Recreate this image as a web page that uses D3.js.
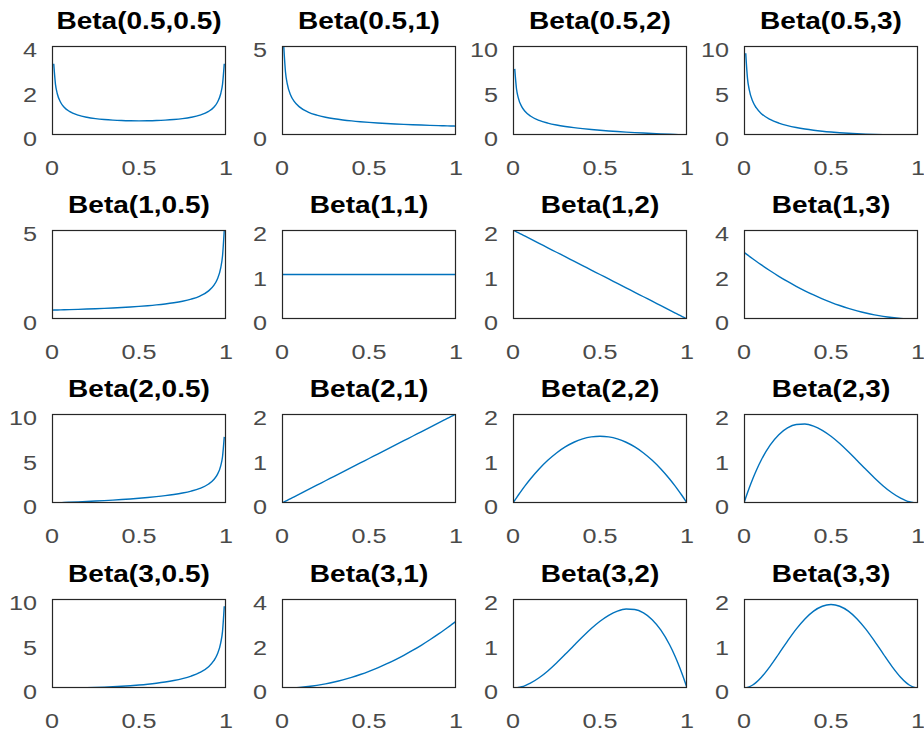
<!DOCTYPE html>
<html>
<head>
<meta charset="utf-8">
<script src="https://cdn.jsdelivr.net/npm/d3@7"></script>
<style>
  html, body { margin: 0; padding: 0; background: #fff; }
  svg { display: block; }
  text { font-family: "Liberation Sans", Arial, Helvetica, sans-serif; }
</style>
</head>
<body>
<svg id="chart" width="924" height="736"></svg>
<script>
// ---- data ----
const titles = [
  "Beta(0.5,0.5)", "Beta(0.5,1)", "Beta(0.5,2)", "Beta(0.5,3)",
  "Beta(1,0.5)", "Beta(1,1)", "Beta(1,2)", "Beta(1,3)",
  "Beta(2,0.5)", "Beta(2,1)", "Beta(2,2)", "Beta(2,3)",
  "Beta(3,0.5)", "Beta(3,1)", "Beta(3,2)", "Beta(3,3)"
];
const yMax = [4, 5, 10, 10,  5, 2, 2, 4,  10, 2, 2, 2,  10, 4, 2, 2];
const yTicks = [
  [0, 2, 4], [0, 5], [0, 5, 10], [0, 5, 10],
  [0, 5], [0, 1, 2], [0, 1, 2], [0, 2, 4],
  [0, 5, 10], [0, 1, 2], [0, 1, 2], [0, 1, 2],
  [0, 5, 10], [0, 2, 4], [0, 1, 2], [0, 1, 2]
];
const xTicks = [0, 0.5, 1];
const xTickLabels = ["0", "0.5", "1"];

const xs = [0, 0.01, 0.02, 0.03, 0.05, 0.07, 0.1, 0.15, 0.2, 0.25, 0.3, 0.35, 0.4, 0.45, 0.5,
            0.55, 0.6, 0.65, 0.7, 0.75, 0.8, 0.85, 0.9, 0.93, 0.95, 0.97, 0.98, 0.99, 1];

const y_05_05 = [null, 3.199, 2.274, 1.866, 1.4605, 1.2475, 1.061, 0.8914, 0.7958, 0.7351, 0.6946, 0.6674, 0.6497, 0.6398, 0.6366,
                 0.6398, 0.6497, 0.6674, 0.6946, 0.7351, 0.7958, 0.8914, 1.061, 1.2475, 1.4605, 1.866, 2.274, 3.199, null];
const y_05_1 = [null, 5.0, 3.536, 2.887, 2.236, 1.890, 1.581, 1.291, 1.118, 1.0, 0.9129, 0.8452, 0.7906, 0.7454, 0.7071,
                0.6742, 0.6455, 0.6202, 0.5976, 0.5774, 0.5590, 0.5423, 0.5270, 0.5185, 0.5130, 0.5077, 0.5051, 0.5025, 0.5];
const y_05_2 = [null, 7.425, 5.198, 4.200, 3.186, 2.637, 2.134, 1.646, 1.342, 1.125, 0.9585, 0.8241, 0.7115, 0.6150, 0.5303,
                0.4551, 0.3873, 0.3256, 0.2689, 0.2165, 0.1677, 0.1220, 0.0791, 0.0544, 0.0385, 0.0228, 0.0152, 0.0075, 0];
const y_05_3 = [null, 9.188, 6.367, 5.093, 3.784, 3.065, 2.401, 1.749, 1.342, 1.0547, 0.8387, 0.6696, 0.5337, 0.4228, 0.3315,
                0.2560, 0.1936, 0.1425, 0.1008, 0.0677, 0.0419, 0.0229, 0.0099, 0.0048, 0.0024, 0.0009, 0.0004, 0.0001, 0];
const y_1_05 = [0.5, 0.5025, 0.5051, 0.5077, 0.5130, 0.5185, 0.5270, 0.5423, 0.5590, 0.5774, 0.5976, 0.6202, 0.6455, 0.6742, 0.7071,
                0.7454, 0.7906, 0.8452, 0.9129, 1.0, 1.118, 1.291, 1.581, 1.890, 2.236, 2.887, 3.536, 5.0, null];
const y_1_1 = [1, 1, 1, 1, 1, 1, 1, 1, 1, 1, 1, 1, 1, 1, 1, 1, 1, 1, 1, 1, 1, 1, 1, 1, 1, 1, 1, 1, 1];
const y_1_2 = [2, 1.98, 1.96, 1.94, 1.9, 1.86, 1.8, 1.7, 1.6, 1.5, 1.4, 1.3, 1.2, 1.1, 1.0,
               0.9, 0.8, 0.7, 0.6, 0.5, 0.4, 0.3, 0.2, 0.14, 0.1, 0.06, 0.04, 0.02, 0];
const y_1_3 = [3, 2.940, 2.881, 2.823, 2.7075, 2.595, 2.43, 2.1675, 1.92, 1.6875, 1.47, 1.2675, 1.08, 0.9075, 0.75,
               0.6075, 0.48, 0.3675, 0.27, 0.1875, 0.12, 0.0675, 0.03, 0.0147, 0.0075, 0.0027, 0.0012, 0.0003, 0];
const y_2_05 = [0, 0.0075, 0.0152, 0.0228, 0.0385, 0.0544, 0.0791, 0.1220, 0.1677, 0.2165, 0.2689, 0.3256, 0.3873, 0.4551, 0.5303,
                0.6150, 0.7115, 0.8241, 0.9585, 1.125, 1.342, 1.646, 2.134, 2.637, 3.186, 4.200, 5.198, 7.425, null];
const y_2_1 = [0, 0.02, 0.04, 0.06, 0.1, 0.14, 0.2, 0.3, 0.4, 0.5, 0.6, 0.7, 0.8, 0.9, 1.0,
               1.1, 1.2, 1.3, 1.4, 1.5, 1.6, 1.7, 1.8, 1.86, 1.9, 1.94, 1.96, 1.98, 2];
const y_2_2 = [0, 0.0594, 0.1176, 0.1746, 0.285, 0.3906, 0.54, 0.765, 0.96, 1.125, 1.26, 1.365, 1.44, 1.485, 1.5,
               1.485, 1.44, 1.365, 1.26, 1.125, 0.96, 0.765, 0.54, 0.3906, 0.285, 0.1746, 0.1176, 0.0594, 0];
const y_2_3 = [0, 0.1176, 0.2305, 0.3387, 0.5415, 0.7265, 0.972, 1.3005, 1.536, 1.6875, 1.764, 1.7745, 1.728, 1.6335, 1.5,
               1.3365, 1.152, 0.9555, 0.756, 0.5625, 0.384, 0.2295, 0.108, 0.0547, 0.0285, 0.0105, 0.0047, 0.0012, 0];
const y_3_05 = [0, 0.0001, 0.0004, 0.0009, 0.0024, 0.0048, 0.0099, 0.0229, 0.0419, 0.0677, 0.1008, 0.1425, 0.1936, 0.2560, 0.3315,
                0.4228, 0.5337, 0.6696, 0.8387, 1.0547, 1.342, 1.749, 2.401, 3.065, 3.784, 5.093, 6.367, 9.188, null];
const y_3_1 = [0, 0.0003, 0.0012, 0.0027, 0.0075, 0.0147, 0.03, 0.0675, 0.12, 0.1875, 0.27, 0.3675, 0.48, 0.6075, 0.75,
               0.9075, 1.08, 1.2675, 1.47, 1.6875, 1.92, 2.1675, 2.43, 2.595, 2.7075, 2.823, 2.881, 2.940, 3];
const y_3_2 = [0, 0.0012, 0.0047, 0.0105, 0.0285, 0.0547, 0.108, 0.2295, 0.384, 0.5625, 0.756, 0.9555, 1.152, 1.3365, 1.5,
               1.6335, 1.728, 1.7745, 1.764, 1.6875, 1.536, 1.3005, 0.972, 0.7265, 0.5415, 0.3387, 0.2305, 0.1176, 0];
const y_3_3 = [0, 0.0029, 0.0115, 0.0254, 0.0677, 0.1271, 0.243, 0.4877, 0.768, 1.0547, 1.323, 1.5527, 1.728, 1.8377, 1.875,
               1.8377, 1.728, 1.5527, 1.323, 1.0547, 0.768, 0.4877, 0.243, 0.1271, 0.0677, 0.0254, 0.0115, 0.0029, 0];

const series = [y_05_05, y_05_1, y_05_2, y_05_3,
                y_1_05, y_1_1, y_1_2, y_1_3,
                y_2_05, y_2_1, y_2_2, y_2_3,
                y_3_05, y_3_1, y_3_2, y_3_3];

// ---- layout ----
const colLeft = [52, 282, 513, 744];
const rowTop = [46, 230, 414, 599];
const pw = 174, ph = 89;
const lineColor = "#0072BD";
const axisColor = "#262626";
const labelColor = "#4a4a4a";
const tickSX = 1.2, titleSX = 1.22;

const svg = d3.select("#chart");
const defs = svg.append("defs");

series.forEach((ys, i) => {
  const r = Math.floor(i / 4), c = i % 4;
  const x0 = colLeft[c], y0 = rowTop[r];
  const xScale = d3.scaleLinear().domain([0, 1]).range([x0, x0 + pw]);
  const yScale = d3.scaleLinear().domain([0, yMax[i]]).range([y0 + ph, y0]);

  const g = svg.append("g");

  defs.append("clipPath").attr("id", "clip" + i)
    .append("rect").attr("x", x0).attr("y", y0).attr("width", pw).attr("height", ph);

  // curve
  const pts = xs.map((x, k) => [x, ys[k]]);
  const line = d3.line()
    .defined(d => d[1] !== null)
    .x(d => xScale(d[0]))
    .y(d => yScale(d[1]))
    .curve(d3.curveMonotoneX);
  g.append("path")
    .attr("clip-path", "url(#clip" + i + ")")
    .attr("d", line(pts))
    .attr("fill", "none")
    .attr("stroke", lineColor)
    .attr("stroke-width", 1.4);

  // box
  g.append("rect")
    .attr("x", x0 + 0.5).attr("y", y0 + 0.5)
    .attr("width", pw - 1).attr("height", ph - 1)
    .attr("fill", "none").attr("stroke", axisColor).attr("stroke-width", 1.2);

  // y tick labels
  yTicks[i].forEach(t => {
    g.append("text")
      .attr("transform", `translate(${x0 - 15},${yScale(t) + 11}) scale(${tickSX},1)`)
      .attr("text-anchor", "end")
      .attr("font-size", 21)
      .attr("fill", labelColor)
      .text(t);
  });

  // x tick labels
  xTicks.forEach((t, k) => {
    g.append("text")
      .attr("transform", `translate(${xScale(t)},${y0 + ph + 40}) scale(${tickSX},1)`)
      .attr("text-anchor", "middle")
      .attr("font-size", 21)
      .attr("fill", labelColor)
      .text(xTickLabels[k]);
  });

  // title
  g.append("text")
    .attr("transform", `translate(${x0 + pw / 2},${y0 - 17}) scale(${titleSX},1)`)
    .attr("text-anchor", "middle")
    .attr("font-size", 23)
    .attr("font-weight", "bold")
    .attr("fill", "#000")
    .text(titles[i]);
});
</script>
</body>
</html>
